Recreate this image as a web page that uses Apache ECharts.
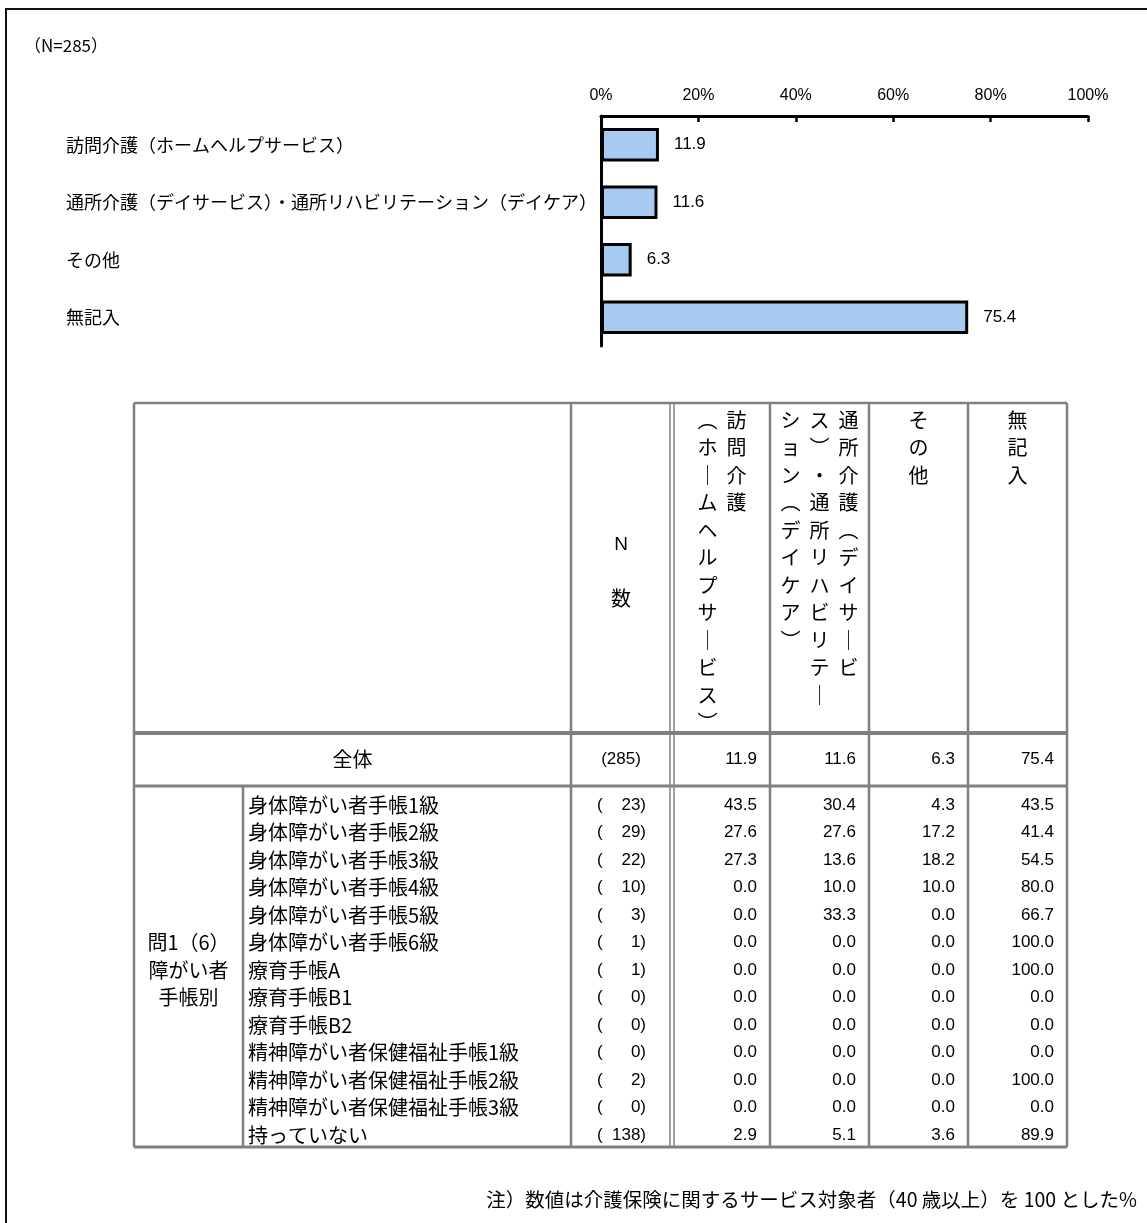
<!DOCTYPE html>
<html><head><meta charset="utf-8">
<script src="https://cdn.jsdelivr.net/npm/echarts@6/dist/echarts.min.js"></script>
<style>html,body{margin:0;padding:0;background:#fff}#c{width:1147px;height:1223px}</style>
</head><body><div id="c"></div>
<script>
// ---------------- data ----------------
const sampleLabel = '（N=285）';
const categories = ['訪問介護（ホームヘルプサービス）', '通所介護（デイサービス）・通所リハビリテーション（デイケア）', 'その他', '無記入'];
const overallValues = [11.9, 11.6, 6.3, 75.4];
const axisTicks = [0, 20, 40, 60, 80, 100];

const nHeader = 'N数';
const headerColumnBreaks = [[4, 12], [10, 11, 9], [3], [3]];
const totalLabel = '全体';
const totalN = 285;
const groupLabelLines = ['問1（6）', '障がい者', '手帳別'];
const rowLabels = ['身体障がい者手帳1級', '身体障がい者手帳2級', '身体障がい者手帳3級', '身体障がい者手帳4級', '身体障がい者手帳5級', '身体障がい者手帳6級', '療育手帳A', '療育手帳B1', '療育手帳B2', '精神障がい者保健福祉手帳1級', '精神障がい者保健福祉手帳2級', '精神障がい者保健福祉手帳3級', '持っていない'];
const rowN = [23, 29, 22, 10, 3, 1, 1, 0, 0, 0, 2, 0, 138];
const homeHelp = [43.5, 27.6, 27.3, 0.0, 0.0, 0.0, 0.0, 0.0, 0.0, 0.0, 0.0, 0.0, 2.9];
const dayService = [30.4, 27.6, 13.6, 10.0, 33.3, 0.0, 0.0, 0.0, 0.0, 0.0, 0.0, 0.0, 5.1];
const otherService = [4.3, 17.2, 18.2, 10.0, 0.0, 0.0, 0.0, 0.0, 0.0, 0.0, 0.0, 0.0, 3.6];
const noAnswer = [43.5, 41.4, 54.5, 80.0, 66.7, 100.0, 100.0, 0.0, 0.0, 0.0, 100.0, 0.0, 89.9];
const noteText = '注）数値は介護保険に関するサービス対象者（40 歳以上）を 100 とした%';

// ---------------- layout / style ----------------
const JP = '"Noto Sans CJK JP", "Noto Sans", sans-serif';
const NUM = '"Liberation Sans", Arial, sans-serif';
const GRAY = '#808080';
const colX = [134, 243, 571, 671, 770, 869, 968, 1067];
const TT = 403, HB = 733, TOTB = 786, BOT = 1147;
const ROW0 = 805, ROWH = 27.5;
const VT0 = 420, VTH = 27.5, VCOLW = 29;

const g = [];
function line(x1, y1, x2, y2, w, c) {
  g.push({type: 'line', silent: true, shape: {x1, y1, x2, y2}, style: {stroke: c || GRAY, lineWidth: w}});
}
function text(x, y, s, opt) {
  g.push({type: 'text', silent: true, x, y, style: Object.assign({text: s, fill: '#000', font: '20px ' + JP, textAlign: 'left', textVerticalAlign: 'middle'}, opt || {})});
}

// outer frame
g.push({type: 'rect', silent: true, shape: {x: 6, y: 9, width: 1200, height: 1300}, style: {fill: 'none', stroke: '#111', lineWidth: 2}});
text(24, 46, sampleLabel, {font: '17px ' + JP});

// table grid
line(colX[0], TT, colX[7], TT, 2.5);
line(colX[0], HB, colX[7], HB, 4);
line(colX[0], TOTB, colX[7], TOTB, 3);
line(colX[0], BOT, colX[7], BOT, 3);
line(colX[0], TT, colX[0], BOT, 2.5);
line(colX[1], TOTB, colX[1], BOT, 2.5);
line(colX[2], TT, colX[2], BOT, 2.5);
line(colX[3] - 1, TT, colX[3] - 1, BOT, 1.5);
line(colX[3] + 3, TT, colX[3] + 3, BOT, 1.5);
for (let k = 4; k < 7; k++) line(colX[k], TT, colX[k], BOT, 2.5);
line(colX[7], TT, colX[7], BOT, 2.5);

// header: N数
const nCx = (colX[2] + colX[3]) / 2;
text(nCx, 545, nHeader[0], {textAlign: 'center', font: '19px ' + NUM});
text(nCx, 598, nHeader[1], {textAlign: 'center'});

// header: vertical category names
const vmap = {'（': '︵', '）': '︶', 'ー': '｜'};
categories.forEach((name, ci) => {
  const left = ci === 0 ? colX[3] + 3 : colX[3 + ci];
  const right = colX[4 + ci];
  const cx = (left + right) / 2;
  const breaks = headerColumnBreaks[ci];
  const chars = Array.from(name);
  let p = 0;
  breaks.forEach((len, k) => {
    const x = cx + ((breaks.length - 1) / 2 - k) * VCOLW;
    chars.slice(p, p + len).forEach((ch, i) => {
      text(x, VT0 + i * VTH, vmap[ch] || ch, {textAlign: 'center'});
    });
    p += len;
  });
});

// total row
const totY = (HB + TOTB) / 2;
text((colX[0] + colX[2]) / 2, totY, totalLabel, {textAlign: 'center'});
text(nCx, totY, '(' + totalN + ')', {textAlign: 'center', font: '17px ' + NUM});
overallValues.forEach((v, ci) => {
  text(colX[4 + ci] - 13, totY, v.toFixed(1), {textAlign: 'right', font: '17px ' + NUM});
});

// group label
groupLabelLines.forEach((s, i) => {
  text((colX[0] + colX[1]) / 2, ROW0 + (5 + i) * ROWH, s, {textAlign: 'center'});
});

// data rows
const dataCols = [homeHelp, dayService, otherService, noAnswer];
rowLabels.forEach((lab, r) => {
  const y = ROW0 + r * ROWH;
  text(colX[1] + 5, y, lab);
  text(colX[2] + 26, y, '(', {font: '17px ' + NUM});
  text(colX[3] - 25, y, rowN[r] + ')', {textAlign: 'right', font: '17px ' + NUM});
  dataCols.forEach((arr, ci) => {
    text(colX[4 + ci] - 13, y, arr[r].toFixed(1), {textAlign: 'right', font: '17px ' + NUM});
  });
});

// note
text(1137, 1200, noteText, {textAlign: 'right', font: '19.5px ' + JP});

// ---------------- chart ----------------
const chart = echarts.init(document.getElementById('c'), null, {renderer: 'canvas'});
chart.setOption({
  animation: false,
  backgroundColor: '#fff',
  grid: {left: 601, right: 59, top: 116, height: 230},
  xAxis: {
    type: 'value', position: 'top', min: axisTicks[0], max: axisTicks[axisTicks.length - 1], interval: axisTicks[1] - axisTicks[0],
    axisLine: {show: true, lineStyle: {color: '#000', width: 3}},
    axisTick: {show: true, inside: true, length: 6, lineStyle: {color: '#000', width: 2.5}},
    splitLine: {show: false},
    axisLabel: {formatter: '{value}%', color: '#000', fontSize: 16, fontFamily: NUM, margin: 12}
  },
  yAxis: {
    type: 'category', inverse: true, data: categories,
    axisLine: {show: true, lineStyle: {color: '#000', width: 3}},
    axisTick: {show: false},
    axisLabel: {align: 'left', margin: 535, color: '#000', fontSize: 18, fontFamily: JP}
  },
  series: [{
    type: 'bar', data: overallValues, barCategoryGap: '42%',
    itemStyle: {color: '#a6caf0', borderColor: '#000', borderWidth: 3},
    label: {show: true, position: 'right', distance: 15, color: '#000', fontSize: 17, fontFamily: NUM, formatter: p => p.value.toFixed(1)}
  }],
  graphic: {elements: g}
});
</script>
</body></html>
